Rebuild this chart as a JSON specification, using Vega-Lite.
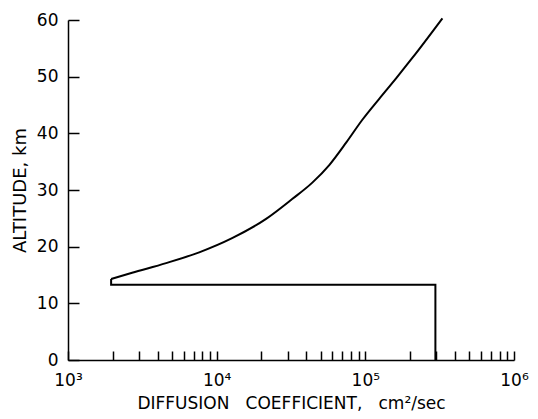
{
  "$schema": "https://vega.github.io/schema/vega-lite/v6.json",
  "autosize": {"type": "none"},
  "padding": {"left": 68, "top": 20, "right": 24, "bottom": 59},
  "width": 446,
  "height": 340,
  "background": "white",
  "config": {"view": {"stroke": null}, "font": "DejaVu Sans"},
  "data": {
    "values": [
      {"part": "box", "i": 0, "d": 296000, "alt": 0},
      {"part": "box", "i": 1, "d": 296000, "alt": 13.3},
      {"part": "box", "i": 2, "d": 1950, "alt": 13.3},
      {"part": "box", "i": 3, "d": 1950, "alt": 14.3},
      {"part": "curve", "i": 4, "d": 1950, "alt": 14.3},
      {"part": "curve", "i": 5, "d": 2700, "alt": 15.4},
      {"part": "curve", "i": 6, "d": 4570, "alt": 17.1},
      {"part": "curve", "i": 7, "d": 7630, "alt": 19.0},
      {"part": "curve", "i": 8, "d": 12700, "alt": 21.5},
      {"part": "curve", "i": 9, "d": 21500, "alt": 24.9},
      {"part": "curve", "i": 10, "d": 32200, "alt": 28.4},
      {"part": "curve", "i": 11, "d": 44000, "alt": 31.3},
      {"part": "curve", "i": 12, "d": 57200, "alt": 34.4},
      {"part": "curve", "i": 13, "d": 74500, "alt": 38.4},
      {"part": "curve", "i": 14, "d": 95500, "alt": 42.4},
      {"part": "curve", "i": 15, "d": 124000, "alt": 46.1},
      {"part": "curve", "i": 16, "d": 162000, "alt": 49.8},
      {"part": "curve", "i": 17, "d": 207000, "alt": 53.3},
      {"part": "curve", "i": 18, "d": 330000, "alt": 60.3}
    ]
  },
  "encoding": {
    "order": {"field": "i", "type": "quantitative"},
    "x": {
      "field": "d",
      "type": "quantitative",
      "scale": {"type": "log", "domain": [1000, 1000000], "nice": false},
      "axis": {
        "title": "DIFFUSION\u00a0\u00a0\u00a0COEFFICIENT,\u00a0\u00a0\u00a0cm²/sec",
        "titleFont": "DejaVu Sans",
        "titleFontSize": 17,
        "titleFontWeight": "normal",
        "titleColor": "black",
        "titlePadding": 7,
        "values": [1000, 2000, 3000, 4000, 5000, 6000, 7000, 8000, 9000, 10000, 20000, 30000, 40000, 50000, 60000, 70000, 80000, 90000, 100000, 200000, 300000, 400000, 500000, 600000, 700000, 800000, 900000, 1000000],
        "labelExpr": "datum.value == 1000 ? '10³' : datum.value == 10000 ? '10⁴' : datum.value == 100000 ? '10⁵' : datum.value == 1000000 ? '10⁶' : ''",
        "labelFont": "DejaVu Sans",
        "labelFontSize": 17,
        "labelColor": "black",
        "labelPadding": 21,
        "labelOverlap": false,
        "labelFlush": false,
        "tickSize": -9,
        "tickColor": "black",
        "tickWidth": 1.5,
        "domainColor": "black",
        "domainWidth": 1.5,
        "grid": false
      }
    },
    "y": {
      "field": "alt",
      "type": "quantitative",
      "scale": {"domain": [0, 60], "nice": false},
      "axis": {
        "title": "ALTITUDE, km",
        "titleFont": "DejaVu Sans",
        "titleFontSize": 18,
        "titleFontWeight": "normal",
        "titleColor": "black",
        "titlePadding": 7,
        "values": [0, 10, 20, 30, 40, 50, 60],
        "labelFont": "DejaVu Sans",
        "labelFontSize": 17,
        "labelColor": "black",
        "labelPadding": 21,
        "tickSize": -11,
        "tickColor": "black",
        "tickWidth": 1.5,
        "domainColor": "black",
        "domainWidth": 1.5,
        "grid": false
      }
    }
  },
  "layer": [
    {
      "transform": [{"filter": "datum.part == 'box'"}],
      "mark": {"type": "line", "color": "black", "strokeWidth": 2, "clip": false}
    },
    {
      "transform": [{"filter": "datum.part == 'curve'"}],
      "mark": {"type": "line", "color": "black", "strokeWidth": 2, "clip": false, "interpolate": "monotone"}
    }
  ]
}
